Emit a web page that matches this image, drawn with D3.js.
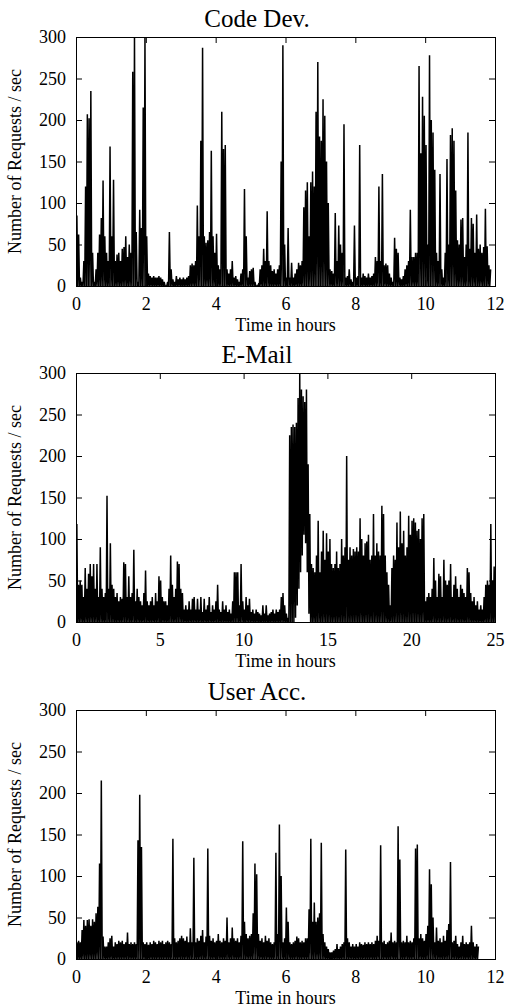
<!DOCTYPE html>
<html lang="en">
<head>
<meta charset="UTF-8">
<title>Requests per second</title>
<script src="https://d3js.org/d3.v7.min.js"></script>
<style>
  body { margin: 0; background: #fff; }
  text { font-family: "Liberation Serif", "Times New Roman", serif; fill: #000; }
</style>
</head>
<body>
<svg width="508" height="1007"></svg>
<script>
// peak requests/sec per time bin
var codeDevStep = 0.05;
var codeDevPeak = [
  85, 62, 10, 5, 30, 120, 207, 202, 235, 40,
  5, 20, 40, 62, 82, 127, 60, 40, 30, 168,
  60, 128, 30, 38, 40, 30, 45, 47, 60, 35,
  50, 40, 258, 300, 65, 5, 92, 70, 215, 300,
  60, 15, 12, 10, 12, 10, 10, 12, 10, 8,
  5, 0, 5, 65, 20, 8, 5, 12, 8, 10,
  8, 10, 8, 10, 12, 25, 27, 25, 30, 97,
  60, 175, 287, 60, 52, 55, 65, 163, 60, 40,
  63, 25, 20, 210, 165, 170, 20, 15, 20, 30,
  10, 12, 8, 5, 15, 20, 117, 60, 10, 18,
  20, 22, 5, 0, 2, 20, 25, 45, 30, 90,
  30, 25, 18, 20, 15, 20, 25, 150, 290, 50,
  10, 70, 10, 28, 10, 15, 20, 28, 25, 30,
  95, 115, 125, 60, 125, 138, 120, 210, 270, 180,
  175, 225, 205, 150, 100, 20, 18, 15, 88, 30,
  73, 50, 40, 195, 10, 12, 20, 8, 5, 73,
  10, 12, 170, 10, 15, 12, 10, 15, 10, 12,
  15, 35, 30, 120, 30, 135, 25, 27, 25, 15,
  10, 5, 58, 45, 40, 10, 8, 12, 20, 25,
  30, 92, 35, 35, 40, 40, 265, 160, 228, 205,
  170, 50, 278, 200, 185, 140, 40, 30, 135, 20,
  10, 40, 153, 50, 182, 190, 175, 115, 55, 50,
  80, 82, 35, 50, 185, 45, 82, 75, 40, 86,
  45, 50, 40, 47, 93, 48, 25, 20
];

var emailStep = 0.1;
var emailPeak = [
  118, 45, 50, 45, 30, 65, 40, 58, 70, 55,
  70, 40, 70, 30, 90, 40, 30, 35, 152, 40,
  95, 45, 40, 30, 35, 25, 30, 28, 72, 70,
  30, 55, 30, 35, 87, 25, 40, 30, 25, 20,
  35, 62, 25, 20, 25, 30, 20, 35, 25, 55,
  50, 30, 25, 25, 20, 40, 80, 45, 30, 40,
  73, 70, 40, 35, 15, 20, 15, 25, 15, 28,
  30, 15, 28, 15, 30, 12, 28, 15, 20, 30,
  12, 20, 15, 25, 45, 15, 12, 25, 15, 20,
  12, 15, 10, 25, 60, 60, 60, 20, 70, 25,
  15, 30, 20, 28, 12, 15, 10, 15, 12, 10,
  8, 20, 10, 20, 8, 10, 12, 15, 10, 15,
  12, 15, 30, 35, 20, 10, 5, 225, 235, 238,
  235, 240, 270, 300, 280, 272, 265, 280, 190, 130,
  70, 65, 60, 80, 122, 60, 85, 110, 75, 107,
  85, 100, 70, 65, 70, 85, 65, 70, 100, 80,
  90, 200, 75, 90, 80, 88, 85, 90, 85, 125,
  100, 80, 95, 97, 105, 75, 80, 130, 80, 95,
  85, 80, 140, 130, 80, 60, 45, 20, 65, 80,
  75, 120, 90, 133, 95, 110, 80, 90, 128, 105,
  122, 125, 120, 110, 112, 100, 125, 130, 25, 30,
  35, 30, 40, 77, 50, 30, 58, 55, 30, 75,
  50, 45, 50, 70, 30, 45, 55, 40, 30, 45,
  40, 35, 30, 65, 60, 35, 25, 30, 20, 25,
  15, 20, 15, 30, 45, 50, 45, 118, 50, 67,
  30
];
// lowest value per bin; only the 13h burst stays off the axis
var emailFloor = [
  0, 0, 0, 0, 0, 0, 0, 0, 0, 0,
  0, 0, 0, 0, 0, 0, 0, 0, 0, 0,
  0, 0, 0, 0, 0, 0, 0, 0, 0, 0,
  0, 0, 0, 0, 0, 0, 0, 0, 0, 0,
  0, 0, 0, 0, 0, 0, 0, 0, 0, 0,
  0, 0, 0, 0, 0, 0, 0, 0, 0, 0,
  0, 0, 0, 0, 0, 0, 0, 0, 0, 0,
  0, 0, 0, 0, 0, 0, 0, 0, 0, 0,
  0, 0, 0, 0, 0, 0, 0, 0, 0, 0,
  0, 0, 0, 0, 0, 0, 0, 0, 0, 0,
  0, 0, 0, 0, 0, 0, 0, 0, 0, 0,
  0, 0, 0, 0, 0, 0, 0, 0, 0, 0,
  0, 0, 0, 0, 0, 0, 0, 0, 0, 0,
  0, 5, 20, 40, 60, 80, 105, 95, 60, 10,
  0, 0, 0, 0, 0, 0, 0, 0, 0, 0,
  0, 0, 0, 0, 0, 0, 0, 0, 0, 0,
  0, 0, 0, 0, 0, 0, 0, 0, 0, 0,
  0, 0, 0, 0, 0, 0, 0, 0, 0, 0,
  0, 0, 0, 0, 0, 0, 0, 0, 0, 0,
  0, 0, 0, 0, 0, 0, 0, 0, 0, 0,
  0, 0, 0, 0, 0, 0, 0, 0, 0, 0,
  0, 0, 0, 0, 0, 0, 0, 0, 0, 0,
  0, 0, 0, 0, 0, 0, 0, 0, 0, 0,
  0, 0, 0, 0, 0, 0, 0, 0, 0, 0,
  0, 0, 0, 0, 0, 0, 0, 0, 0, 0,
  0
];

var userAccStep = 0.05;
var userAccPeak = [
  20, 22, 20, 35, 47, 40, 47, 48, 40, 48,
  45, 55, 63, 115, 215, 27, 15, 15, 20, 25,
  28, 15, 20, 18, 22, 20, 22, 18, 20, 32,
  18, 20, 18, 20, 18, 143, 198, 135, 20, 18,
  20, 17, 20, 18, 22, 20, 18, 22, 20, 22,
  18, 20, 22, 20, 18, 145, 25, 20, 22, 25,
  28, 25, 22, 27, 20, 37, 20, 122, 20, 25,
  22, 28, 35, 20, 27, 133, 28, 22, 25, 20,
  22, 30, 22, 20, 25, 22, 50, 20, 25, 38,
  25, 22, 25, 20, 28, 142, 45, 30, 25, 28,
  30, 55, 115, 102, 30, 22, 25, 20, 28, 22,
  25, 20, 18, 20, 128, 30, 162, 100, 20, 25,
  62, 45, 20, 18, 20, 22, 27, 25, 20, 22,
  20, 25, 25, 60, 145, 45, 68, 45, 50, 55,
  140, 30, 20, 15, 12, 8, 8, 10, 12, 18,
  12, 15, 18, 20, 132, 25, 20, 15, 18, 15,
  18, 15, 20, 18, 17, 20, 18, 20, 18, 20,
  18, 22, 28, 22, 137, 20, 22, 18, 20, 22,
  32, 20, 22, 20, 160, 120, 20, 22, 20, 28,
  20, 22, 20, 25, 133, 138, 25, 30, 25, 22,
  30, 40, 108, 90, 50, 20, 38, 22, 25, 20,
  28, 22, 35, 42, 117, 20, 22, 28, 18, 15,
  20, 28, 18, 20, 18, 20, 40, 20, 15, 18,
  15
];

var yTicks = [0, 50, 100, 150, 200, 250, 300];
var codeDevTicks = [0, 2, 4, 6, 8, 10, 12];
var emailTicks = [0, 5, 10, 15, 20, 25];
var userAccTicks = [0, 2, 4, 6, 8, 10, 12];

var panels = [
  { title: "Code Dev.", top: 37, xMax: 12, ticks: codeDevTicks, step: codeDevStep, peak: codeDevPeak, floor: null },
  { title: "E-Mail", top: 373, xMax: 25, ticks: emailTicks, step: emailStep, peak: emailPeak, floor: emailFloor },
  { title: "User Acc.", top: 710, xMax: 12, ticks: userAccTicks, step: userAccStep, peak: userAccPeak, floor: null }
];

var svg = d3.select("svg"),
  left = 76,
  right = 495,
  plotH = 249,
  font = "'Liberation Serif', 'Times New Roman', serif";

panels.forEach(function (p, k) {
  var bottom = p.top + plotH;
  var x = d3.scaleLinear().domain([0, p.xMax]).range([left, right]);
  var y = d3.scaleLinear().domain([0, 300]).range([bottom, p.top]);

  svg.append("clipPath").attr("id", "clip" + k)
    .append("rect")
    .attr("x", left).attr("y", p.top)
    .attr("width", right - left).attr("height", plotH);

  // zigzag from the bin's low value up to its peak, like the raw trace
  var pts = [];
  p.peak.forEach(function (v, i) {
    var t = i * p.step;
    pts.push([t, p.floor ? p.floor[i] : 0]);
    pts.push([t + p.step / 2, v]);
  });

  svg.append("path")
    .datum(pts)
    .attr("clip-path", "url(#clip" + k + ")")
    .attr("fill", "none")
    .attr("stroke", "#000")
    .attr("stroke-width", 1.5)
    .attr("stroke-linejoin", "miter")
    .attr("d", d3.line().x(function (d) { return x(d[0]); }).y(function (d) { return y(d[1]); }));

  // ticks point inwards on all four sides
  var xb = svg.append("g")
    .attr("transform", "translate(0," + bottom + ")")
    .call(d3.axisBottom(x).tickValues(p.ticks).tickSizeInner(-6).tickSizeOuter(0).tickPadding(11));
  var xt = svg.append("g")
    .attr("transform", "translate(0," + p.top + ")")
    .call(d3.axisTop(x).tickValues(p.ticks).tickSizeInner(-6).tickSizeOuter(0).tickFormat(""));
  var yl = svg.append("g")
    .attr("transform", "translate(" + left + ",0)")
    .call(d3.axisLeft(y).tickValues(yTicks).tickSizeInner(-6).tickSizeOuter(0).tickPadding(10));
  var yr = svg.append("g")
    .attr("transform", "translate(" + right + ",0)")
    .call(d3.axisRight(y).tickValues(yTicks).tickSizeInner(-6).tickSizeOuter(0).tickFormat(""));

  [xb, xt, yl, yr].forEach(function (a) {
    a.select(".domain").remove();
    a.attr("font-family", font).attr("font-size", 18);
    a.selectAll("text").style("fill", "#000");
  });

  svg.append("rect")
    .attr("x", left + 0.5).attr("y", p.top + 0.5)
    .attr("width", right - left).attr("height", plotH)
    .attr("fill", "none")
    .attr("stroke", "#000")
    .attr("stroke-width", 1);

  // title
  svg.append("text")
    .attr("x", 257)
    .attr("y", p.top - 10)
    .attr("text-anchor", "middle")
    .style("font-size", "25px")
    .text(p.title);

  // X label
  svg.append("text")
    .attr("x", (left + right) / 2)
    .attr("y", bottom + 45)
    .attr("text-anchor", "middle")
    .style("font-size", "18px")
    .text("Time in hours");

  // Y label
  svg.append("text")
    .attr("text-anchor", "middle")
    .attr("transform", "translate(21," + (p.top + plotH / 2) + ")rotate(-90)")
    .style("font-size", "18px")
    .text("Number of Requests / sec");
});
</script>
</body>
</html>
